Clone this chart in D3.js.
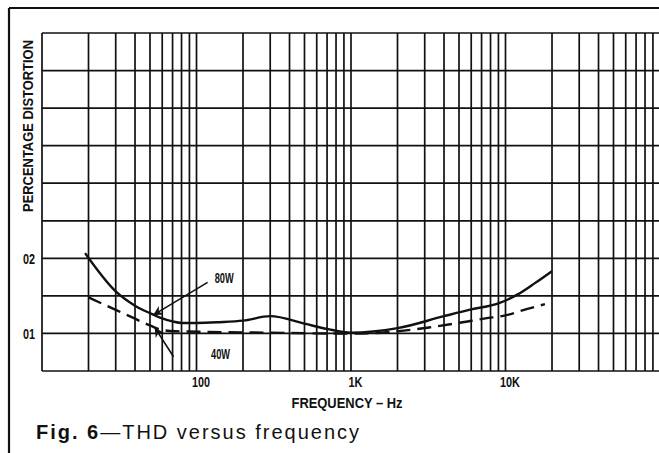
<!DOCTYPE html>
<html>
<head>
<meta charset="utf-8">
<script src="https://cdn.jsdelivr.net/npm/d3@7/dist/d3.min.js"></script>
<style>
  body { margin: 0; background: #fff; }
  svg { display: block; }
  .cond { font-family: "Liberation Sans", Arial, sans-serif; font-weight: bold; fill: #111; }
  .caption { font-family: "Liberation Sans", Arial, sans-serif; fill: #111; }
</style>
</head>
<body>
<script>
// 80W curve (solid)
const freq80 = [19, 30, 40, 50, 60, 70, 80, 100, 140, 200, 300, 500, 700, 1000, 2000, 4000, 6000, 9000, 12000, 15500, 20000];
const thd80 = [0.0207, 0.0156, 0.0137, 0.0127, 0.0120, 0.0116, 0.0114, 0.0114, 0.0115, 0.0117, 0.0123, 0.0113, 0.0106, 0.0101, 0.0107, 0.0123, 0.0132, 0.0140, 0.0152, 0.0167, 0.0183];

// 40W curve (dashed)
const freq40 = [20, 31, 46, 59, 73, 120, 300, 720, 1200, 2000, 3200, 5000, 7400, 10000, 13500, 18000];
const thd40 = [0.0148, 0.0130, 0.0114, 0.0105, 0.0103, 0.0102, 0.0101, 0.0100, 0.0100, 0.0103, 0.0108, 0.0114, 0.0120, 0.0124, 0.0132, 0.0139];

// axis labels
const xTickValues = [100, 1000, 10000];
const xTickLabels = ["100", "1K", "10K"];
const yTickValues = [0.01, 0.02];
const yTickLabels = ["01", "02"];

// callouts: label spot, leader start, leader end (data coords)
const calloutLabels = ["80W", "40W"];
const calloutText = [[151, 0.0174], [143, 0.0073]];
const calloutFrom = [[118, 0.0168], [71, 0.0069]];
const calloutTo = [[53, 0.0125], [54, 0.0107]];

const W = 659, H = 453;
const plot = { left: 42, right: 660, top: 33, bottom: 371 };

const svg = d3.select("body").append("svg")
  .attr("width", W)
  .attr("height", H);

// squeeze a text to a given width (the print uses a condensed face)
function fitWidth(sel, w) {
  sel.attr("textLength", w).attr("lengthAdjust", "spacingAndGlyphs");
}

// outer frame (top and left rules of the page)
svg.append("line")
  .attr("x1", 9).attr("y1", 8).attr("x2", W).attr("y2", 8)
  .attr("stroke", "#111").attr("stroke-width", 2);
svg.append("line")
  .attr("x1", 9).attr("y1", 8).attr("x2", 9).attr("y2", H)
  .attr("stroke", "#111").attr("stroke-width", 2.2);

const xScale = d3.scaleLog([10, 100000], [plot.left, plot.right]);
const yScale = d3.scaleLinear([0.005, 0.05], [plot.bottom, plot.top]);

// grid
const xGrid = [];
for (let d = 10; d < 100000; d *= 10) {
  for (let k = 1; k < 10; k++) xGrid.push(d * k);
}
xGrid.push(100000);
const yGrid = d3.range(0, 10).map(i => 0.005 + i * 0.005);

const grid = svg.append("g").attr("stroke", "#111").attr("stroke-width", 1.7);
grid.selectAll("line.v")
  .data(xGrid)
  .join("line")
  .attr("class", "v")
  .attr("x1", d => xScale(d)).attr("x2", d => xScale(d))
  .attr("y1", plot.top).attr("y2", plot.bottom);
grid.selectAll("line.h")
  .data(yGrid)
  .join("line")
  .attr("class", "h")
  .attr("x1", plot.left).attr("x2", plot.right)
  .attr("y1", d => yScale(d)).attr("y2", d => yScale(d));

// axes (labels only)
const xAxis = d3.axisBottom(xScale)
  .tickValues(xTickValues)
  .tickFormat((d, i) => xTickLabels[i])
  .tickSize(0)
  .tickPadding(6);
const gx = svg.append("g")
  .attr("transform", `translate(4,${plot.bottom})`)
  .call(xAxis);
gx.select(".domain").remove();
gx.selectAll("text")
  .attr("class", "cond")
  .style("font-size", "14px")
  .each(function (d, i) { fitWidth(d3.select(this), [18, 14, 20][i]); });

const yAxis = d3.axisLeft(yScale)
  .tickValues(yTickValues)
  .tickFormat((d, i) => yTickLabels[i])
  .tickSize(0)
  .tickPadding(7);
const gy = svg.append("g")
  .attr("transform", `translate(${plot.left},1)`)
  .call(yAxis);
gy.select(".domain").remove();
gy.selectAll("text")
  .attr("class", "cond")
  .style("font-size", "14px")
  .each(function () { fitWidth(d3.select(this), 12); });

// axis titles
svg.append("text")
  .attr("class", "cond")
  .attr("text-anchor", "middle")
  .attr("x", 347)
  .attr("y", 408)
  .style("font-size", "14px")
  .text("FREQUENCY – Hz")
  .call(fitWidth, 111);

svg.append("text")
  .attr("class", "cond")
  .attr("text-anchor", "middle")
  .attr("transform", "translate(33,126) rotate(-90)")
  .style("font-size", "15px")
  .text("PERCENTAGE DISTORTION")
  .call(fitWidth, 172);

// curves
const line = d3.line()
  .x(d => xScale(d[0]))
  .y(d => yScale(d[1]))
  .curve(d3.curveMonotoneX);

svg.append("path")
  .datum(d3.zip(freq80, thd80))
  .attr("fill", "none")
  .attr("stroke", "#111")
  .attr("stroke-width", 2.4)
  .attr("d", line);

svg.append("path")
  .datum(d3.zip(freq40, thd40))
  .attr("fill", "none")
  .attr("stroke", "#111")
  .attr("stroke-width", 2.4)
  .style("stroke-dasharray", "14, 7")
  .attr("d", line);

// callouts
svg.append("defs").append("marker")
  .attr("id", "tip")
  .attr("viewBox", "0 0 10 10")
  .attr("refX", 9).attr("refY", 5)
  .attr("markerWidth", 6).attr("markerHeight", 6)
  .attr("orient", "auto")
  .append("path")
  .attr("d", "M0,0 L10,5 L0,10 L3,5 Z")
  .attr("fill", "#111");

calloutLabels.forEach((lab, i) => {
  svg.append("line")
    .attr("x1", xScale(calloutFrom[i][0])).attr("y1", yScale(calloutFrom[i][1]))
    .attr("x2", xScale(calloutTo[i][0])).attr("y2", yScale(calloutTo[i][1]))
    .attr("stroke", "#111")
    .attr("stroke-width", 1.6)
    .attr("marker-end", "url(#tip)");
  svg.append("text")
    .attr("class", "cond")
    .attr("text-anchor", "middle")
    .attr("dy", "0.36em")
    .attr("x", xScale(calloutText[i][0]))
    .attr("y", yScale(calloutText[i][1]))
    .style("font-size", "14px")
    .text(lab)
    .call(fitWidth, 19);
});

// caption: bold figure number, then regular text, widely spaced
const cap = svg.append("text")
  .attr("class", "caption")
  .attr("x", 36)
  .attr("y", 439)
  .style("font-size", "20px");
cap.append("tspan").style("font-weight", "bold").text("Fig. 6");
cap.append("tspan").text("—THD versus frequency");
const capText = "Fig. 6—THD versus frequency";
const spacing = (325 - cap.node().getComputedTextLength()) / capText.length;
cap.style("letter-spacing", spacing + "px");
</script>
</body>
</html>
